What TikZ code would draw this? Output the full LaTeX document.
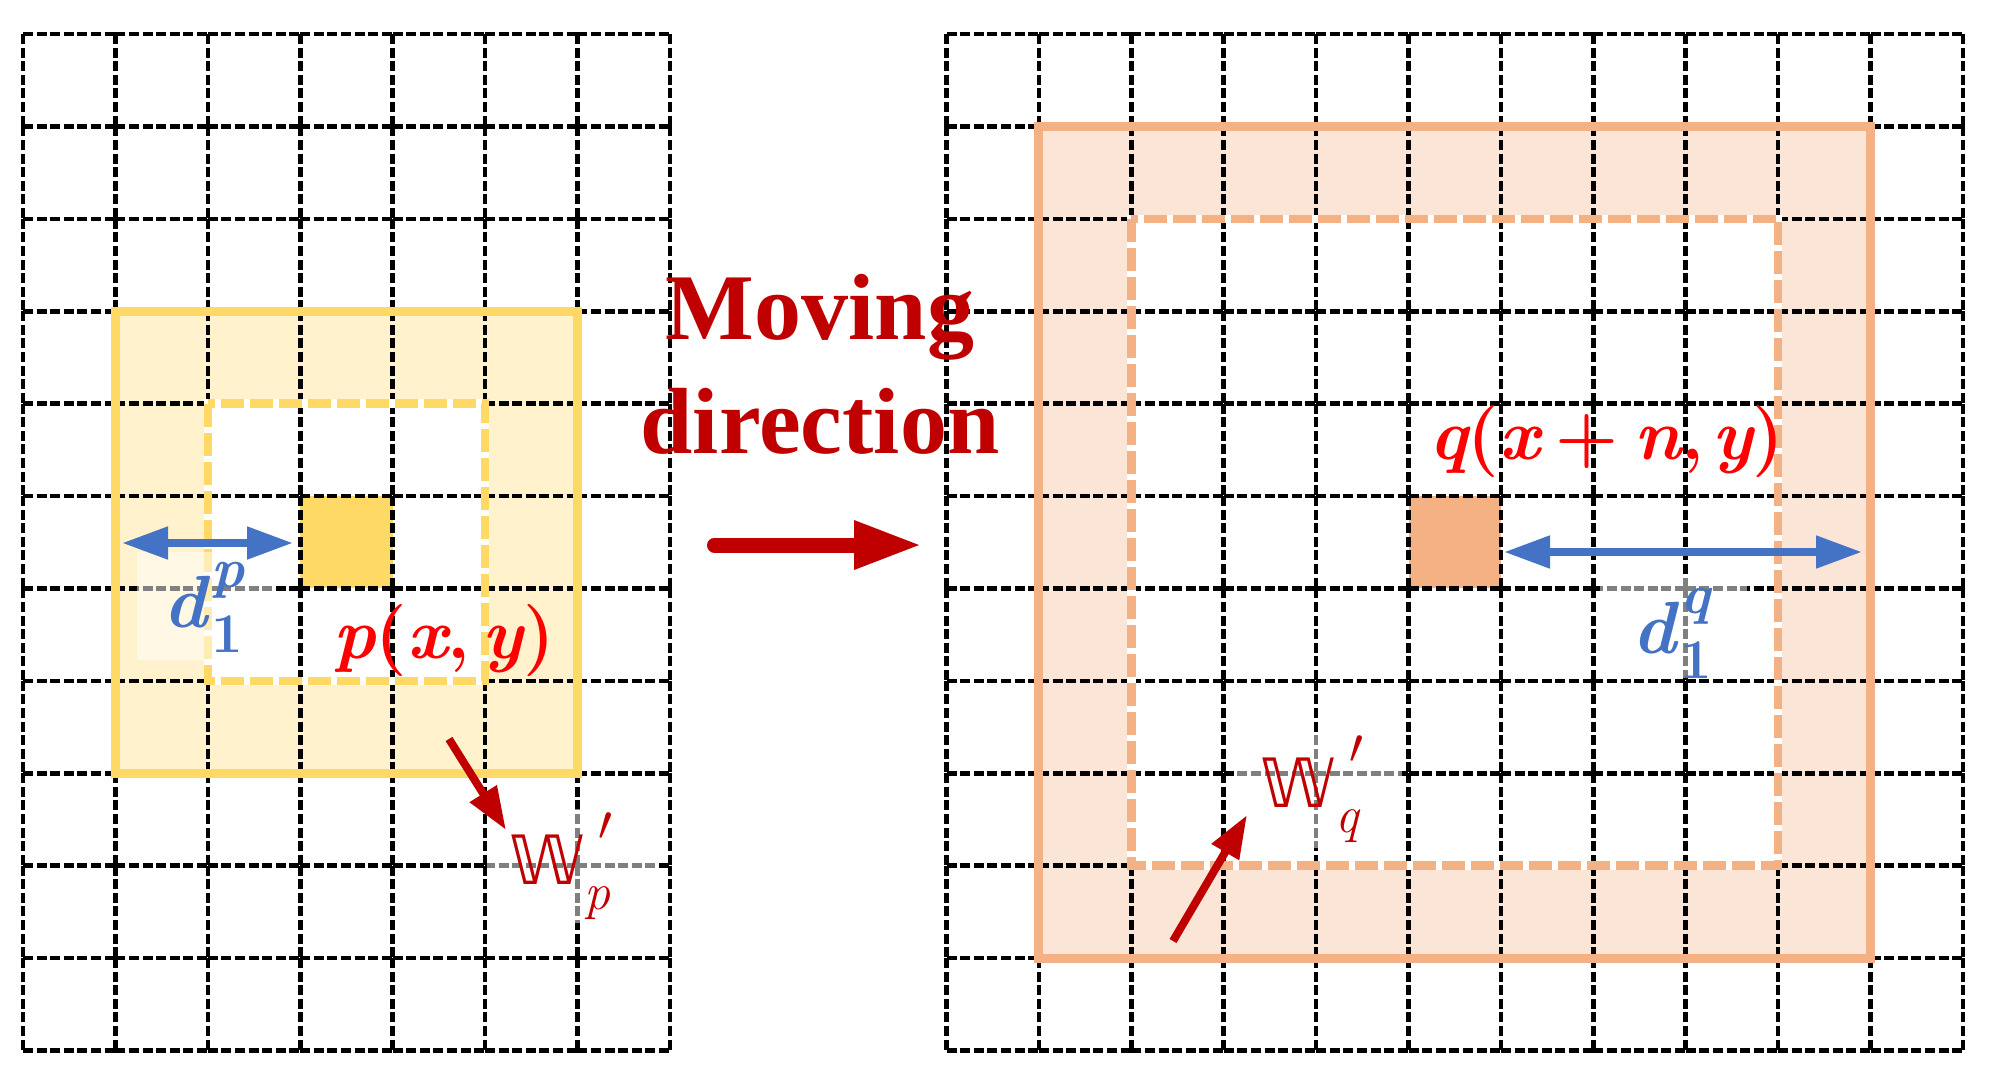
\documentclass[tikz,border=0pt]{standalone}
\usepackage{fontspec}
\usetikzlibrary{arrows.meta}
\newfontfamily\tnr{Liberation Serif}
\newfontfamily\djv{DejaVu Sans}
\definecolor{gold}{HTML}{FFD966}
\definecolor{goldlight}{HTML}{FFF2CC}
\definecolor{peach}{HTML}{F4B183}
\definecolor{peachlight}{HTML}{FBE5D6}
\definecolor{dblue}{HTML}{4472C4}
\definecolor{dred}{HTML}{C00000}
\definecolor{bred}{HTML}{FF0000}
\newcommand\bi[1]{{\bfseries\itshape #1}}
\newcommand\bu[1]{{\bfseries #1}}
\newcommand\supsubtxt[3]{\rlap{\raisebox{#3}{#1}}\raisebox{-12.5pt}{#2}}
\begin{document}
\begin{tikzpicture}[x=0.5pt,y=-0.5pt,
  gridcell/.style={draw=black, line width=2.3pt, dash pattern=on 5pt off 1.8pt},
  outerbox/.style={line width=4.5pt},
  innerunder/.style={draw=white, line width=4.2pt},
  innerdash/.style={line width=4.2pt, dash pattern=on 11.5pt off 3pt},
  bluearr/.style={draw=dblue, line width=4pt, {Triangle[length=23pt,width=15.5pt]}-{Triangle[length=23pt,width=15.5pt]}},
  redarr/.style={draw=dred, line width=4pt, -{Triangle[length=21.5pt,width=15pt]}},
  bigarr/.style={draw=dred, line width=7.5pt, line cap=round, -{Triangle[length=34pt,width=22.5pt]}},
  lbl/.style={inner sep=0pt, anchor=base west},
  labelbg/.style={fill=white, fill opacity=0.5},
  movetxt/.style={inner sep=0pt, anchor=base, text=dred, font=\tnr\bfseries\fontsize{47}{50}\selectfont}
]
\useasboundingbox (0,0) rectangle (1991,1083);
\fill[white] (0,0) rectangle (1991,1083);

% ---------- left window fills ----------
\fill[goldlight] (115.4,311.2) rectangle (577.4,773.2);
\fill[white] (207.8,403.6) rectangle (485,680.8);
\fill[gold] (300.2,496) rectangle (392.6,588.4);

% ---------- right window fills ----------
\fill[peachlight] (1038.9,126.4) rectangle (1870.5,958);
\fill[white] (1131.3,218.8) rectangle (1778.1,865.6);
\fill[peach] (1408.5,496) rectangle (1500.9,588.4);

% ---------- grids (each cell edge drawn separately) ----------
\foreach \j in {0,...,11}
  \foreach \i in {0,...,6}
    \draw[gridcell] ({23+\i*92.4},{34+\j*92.4}) -- ++(92.4,0);
\foreach \i in {0,...,7}
  \foreach \j in {0,...,10}
    \draw[gridcell] ({23+\i*92.4},{34+\j*92.4}) -- ++(0,92.4);
\foreach \j in {0,...,11}
  \foreach \i in {0,...,10}
    \draw[gridcell] ({946.5+\i*92.4},{34+\j*92.4}) -- ++(92.4,0);
\foreach \i in {0,...,11}
  \foreach \j in {0,...,10}
    \draw[gridcell] ({946.5+\i*92.4},{34+\j*92.4}) -- ++(0,92.4);

% ---------- window borders ----------
\draw[outerbox, draw=gold] (115.4,311.2) rectangle (577.4,773.2);
\draw[innerunder] (207.8,403.6) rectangle (485,680.8);
\draw[innerdash, draw=gold] (207.8,403.6) rectangle (485,680.8);
\draw[outerbox, draw=peach] (1038.9,126.4) rectangle (1870.5,958);
\draw[innerunder] (1131.3,218.8) rectangle (1778.1,865.6);
\draw[innerdash, draw=peach] (1131.3,218.8) rectangle (1778.1,865.6);

% ---------- label backgrounds ----------
\fill[labelbg] (137,552) rectangle (273,660);
\fill[labelbg] (1600,575) rectangle (1747,678);
\fill[labelbg] (487,809) rectangle (656,923);
\fill[labelbg] (1235,732) rectangle (1402,848);

% ---------- coordinates ----------
\coordinate (bl1) at (122,543);
\coordinate (bl2) at (293,543);
\coordinate (br1) at (1504,552);
\coordinate (br2) at (1862,552);
\coordinate (ra1) at (449,739);
\coordinate (ra2) at (506,830);
\coordinate (rb1) at (1173,941);
\coordinate (rb2) at (1247,815);
\coordinate (mv1) at (714.5,545);
\coordinate (mv2) at (922,545);

% ---------- arrows ----------
\draw[bluearr] (bl1) -- (bl2);
\draw[bluearr] (br1) -- (br2);
\draw[redarr] (ra1) -- (ra2);
\draw[redarr] (rb1) -- (rb2);
\draw[bigarr] (mv1) -- (mv2);

% ---------- labels ----------
\node[lbl, text=dblue, font=\fontsize{37}{40}\selectfont] (dp) at (163,627)
  {\bi{d}\kern2pt{\fontsize{28}{30}\selectfont\supsubtxt{\bi{p}}{\bu{1}}{20pt}}};
\node[lbl, text=dblue, font=\fontsize{37}{40}\selectfont] (dq) at (1632,653)
  {\bi{d}\kern2pt{\fontsize{28}{30}\selectfont\supsubtxt{\bi{q}}{\bu{1}}{20pt}}};
\node[lbl, text=bred, font=\fontsize{36}{40}\selectfont] (pxy) at (333,658)
  {\bi{p}\bu{(}\bi{x}\bu{,}\kern0.17em\bi{y}\bu{)}};
\node[lbl, text=bred, font=\fontsize{36}{40}\selectfont] (qxy) at (1429,459)
  {\bi{q}\bu{(}\bi{x}\kern0.22em\bu{+}\kern0.22em\bi{n}\bu{,}\kern0.12em\bi{y}\bu{)}};
\node[lbl, text=dred, font=\fontsize{34}{40}\selectfont] (wp) at (509,884)
  {{\djv 𝕎}{\fontsize{26}{28}\selectfont\supsubtxt{\kern7pt\raisebox{6pt}{$\prime$}}{\itshape p}{16pt}}};
\node[lbl, text=dred, font=\fontsize{34}{40}\selectfont] (wq) at (1260,807)
  {{\djv 𝕎}{\fontsize{26}{28}\selectfont\supsubtxt{\kern7pt\raisebox{6pt}{$\prime$}}{\itshape q}{16pt}}};
\node[movetxt] (mv) at (820,339) {Moving};
\node[movetxt] (dir) at (820,453) {direction};
\end{tikzpicture}
\end{document}
